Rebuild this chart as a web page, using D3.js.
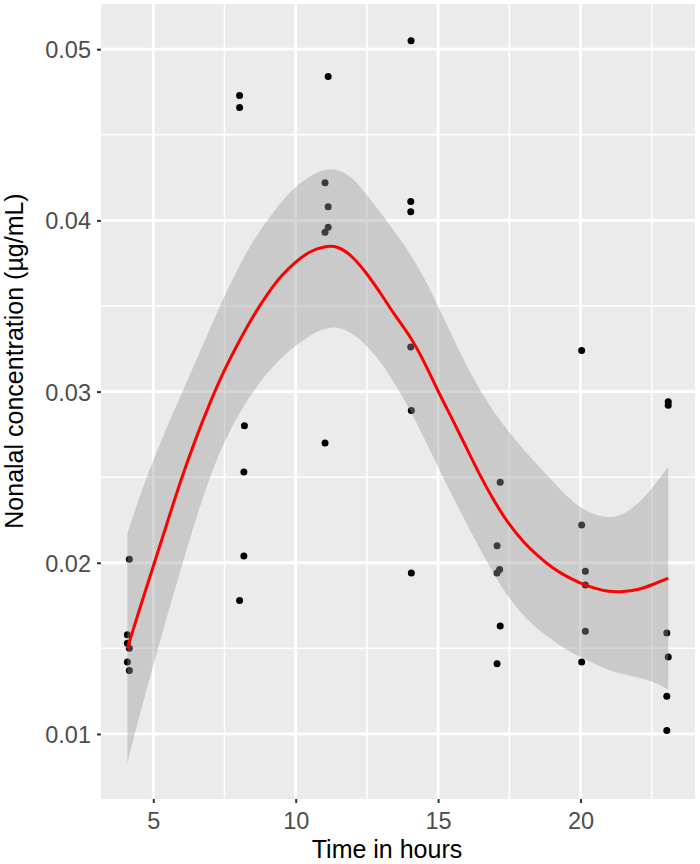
<!DOCTYPE html>
<html>
<head>
<meta charset="utf-8">
<script src="https://cdn.jsdelivr.net/npm/d3@7"></script>
<style>
body { margin: 0; background: #fff; }
</style>
</head>
<body>
<div id="vis"></div>
<script>
// measured points: time (h) and nonanal concentration
var timeVals = [4.16, 4.09, 4.09, 4.16, 4.09, 4.16,
                8.03, 8.03, 8.20, 8.18, 8.18, 8.03,
                11.14, 11.03, 11.14, 11.14, 11.03, 11.03,
                14.05, 14.04, 14.04, 14.04, 14.06, 14.06,
                17.18, 17.07, 17.16, 17.07, 17.18, 17.07,
                20.04, 20.04, 20.17, 20.17, 20.17, 20.04,
                23.08, 23.08, 23.03, 23.08, 23.03, 23.03];
var concVals = [0.0202, 0.0158, 0.0153, 0.0150, 0.0142, 0.0137,
                0.0473, 0.0466, 0.0280, 0.0253, 0.0204, 0.0178,
                0.0484, 0.0422, 0.0408, 0.0396, 0.0393, 0.0270,
                0.0505, 0.0411, 0.0405, 0.0326, 0.0289, 0.0194,
                0.0247, 0.0210, 0.0196, 0.0194, 0.0163, 0.0141,
                0.0324, 0.0222, 0.0195, 0.0187, 0.0160, 0.0142,
                0.0294, 0.0292, 0.0159, 0.0145, 0.0122, 0.0102];

// smoother
var fitX = [4.09, 4.5, 5, 5.5, 6, 6.5, 7, 7.5, 8, 8.5, 9, 9.5, 10, 10.5, 11, 11.5, 12, 12.5, 13, 13.5,
            14, 14.5, 15, 15.5, 16, 16.5, 17, 17.5, 18, 18.5, 19, 19.5, 20, 20.5, 21, 21.5, 22, 22.5, 23.08];
var fitY = [0.0150, 0.0172, 0.0198, 0.0224, 0.0250, 0.0273, 0.0294, 0.0313, 0.0329, 0.0344, 0.0357, 0.0368,
            0.0376, 0.0382, 0.0385, 0.0385, 0.0379, 0.0369, 0.0357, 0.0344, 0.0333, 0.0318, 0.0300, 0.0284,
            0.0267, 0.0250, 0.0235, 0.0222, 0.0212, 0.0204, 0.0197, 0.0192, 0.0188, 0.0185, 0.0183, 0.0183,
            0.0184, 0.0187, 0.0191];
var fitUpper = [0.0217, 0.0238, 0.0260, 0.0280, 0.0299, 0.0318, 0.0337, 0.0356, 0.0373, 0.0388, 0.0400, 0.0411,
                0.0420, 0.0426, 0.0430, 0.0430, 0.0425, 0.0415, 0.0404, 0.0393, 0.0381, 0.0367, 0.0350, 0.0332,
                0.0315, 0.0300, 0.0287, 0.0276, 0.0266, 0.0257, 0.0248, 0.0239, 0.0232, 0.0228, 0.0226, 0.0228,
                0.0234, 0.0243, 0.0256];
var fitLower = [0.0083, 0.0110, 0.0140, 0.0170, 0.0198, 0.0226, 0.0251, 0.0271, 0.0287, 0.0300, 0.0311, 0.0320,
                0.0327, 0.0333, 0.0337, 0.0338, 0.0334, 0.0327, 0.0317, 0.0304, 0.0290, 0.0273, 0.0256, 0.0239,
                0.0223, 0.0207, 0.0192, 0.0179, 0.0169, 0.0161, 0.0155, 0.0149, 0.0145, 0.0141, 0.0137, 0.0135,
                0.0133, 0.0131, 0.0126];

var xTicks = [5, 10, 15, 20];
var xMinor = [7.5, 12.5, 17.5, 22.5];
var yTicks = [0.01, 0.02, 0.03, 0.04, 0.05];
var yMinor = [0.015, 0.025, 0.035, 0.045];

var points = timeVals.map((t, i) => ({x: t, y: concVals[i]}));
var fit = fitX.map((t, i) => ({x: t, y: fitY[i], lo: fitLower[i], hi: fitUpper[i]}));

var w = 700;
var h = 864;
var pLeft = 101, pRight = 695, pTop = 4, pBottom = 799;
var font = "'Liberation Sans', Arial, Helvetica, sans-serif";

var svg = d3.select("#vis")
            .append("svg")
            .attr("width", w)
            .attr("height", h)
            .style("background-color", "#fff")

var x = d3.scaleLinear()
          .domain([3.164, 24.02])
          .range([pLeft, pRight])

var y = d3.scaleLinear()
          .domain([0.0062, 0.05264])
          .range([pBottom, pTop])

// panel
svg.append("rect")
   .attr("x", pLeft)
   .attr("y", pTop)
   .attr("width", pRight - pLeft)
   .attr("height", pBottom - pTop)
   .attr("fill", "#EBEBEB")

// grid
svg.selectAll(".ymin").data(yMinor).enter().append("line")
   .attr("x1", pLeft).attr("x2", pRight)
   .attr("y1", d => y(d)).attr("y2", d => y(d))
   .attr("stroke", "#fff").attr("stroke-width", 1.5)
svg.selectAll(".xmin").data(xMinor).enter().append("line")
   .attr("y1", pTop).attr("y2", pBottom)
   .attr("x1", d => x(d)).attr("x2", d => x(d))
   .attr("stroke", "#fff").attr("stroke-width", 1.5)
svg.selectAll(".ymaj").data(yTicks).enter().append("line")
   .attr("x1", pLeft).attr("x2", pRight)
   .attr("y1", d => y(d)).attr("y2", d => y(d))
   .attr("stroke", "#fff").attr("stroke-width", 2.8)
svg.selectAll(".xmaj").data(xTicks).enter().append("line")
   .attr("y1", pTop).attr("y2", pBottom)
   .attr("x1", d => x(d)).attr("x2", d => x(d))
   .attr("stroke", "#fff").attr("stroke-width", 2.8)

// points
svg.selectAll("circle")
   .data(points)
   .enter()
   .append("circle")
   .attr("cx", d => x(d.x))
   .attr("cy", d => y(d.y))
   .attr("r", 3.5)
   .attr("fill", "#000")

// confidence band
var band = d3.area()
             .x(d => x(d.x))
             .y0(d => y(d.lo))
             .y1(d => y(d.hi))
             .curve(d3.curveBasis)
svg.append("path")
   .datum(fit)
   .attr("d", band)
   .attr("fill", "#999999")
   .attr("fill-opacity", 0.4)

var line = d3.line()
             .x(d => x(d.x))
             .y(d => y(d.y))
             .curve(d3.curveBasis)
svg.append("path")
   .datum(fit)
   .attr("d", line)
   .attr("fill", "none")
   .attr("stroke", "#FF0000")
   .attr("stroke-width", 3)

// axes
var xAxis = svg.append("g")
               .attr("transform", `translate(0,${pBottom})`)
               .call(d3.axisBottom(x).tickValues(xTicks).tickSize(4).tickPadding(5).tickFormat(d3.format("d")))
var yAxis = svg.append("g")
               .attr("transform", `translate(${pLeft},0)`)
               .call(d3.axisLeft(y).tickValues(yTicks).tickSize(4).tickPadding(6).tickFormat(d3.format(".2f")))

svg.selectAll(".domain").remove()
svg.selectAll(".tick line").attr("stroke", "#333333").attr("stroke-width", 2)
svg.selectAll(".tick text")
   .attr("fill", "#4D4D4D")
   .style("font-family", font)
   .style("font-size", "23.5px")
yAxis.selectAll(".tick text").attr("dy", "0.36em")
xAxis.selectAll(".tick text").attr("dy", "0.9em")

svg.append("text")
   .attr("x", 387)
   .attr("y", 858)
   .attr("text-anchor", "middle")
   .style("font-family", font)
   .style("font-size", "25px")
   .attr("fill", "#000")
   .text("Time in hours")

svg.append("text")
   .attr("transform", "translate(23,361) rotate(-90)")
   .attr("text-anchor", "middle")
   .style("font-family", font)
   .style("font-size", "25px")
   .attr("fill", "#000")
   .text("Nonalal concentration (µg/mL)")
</script>
</body>
</html>
